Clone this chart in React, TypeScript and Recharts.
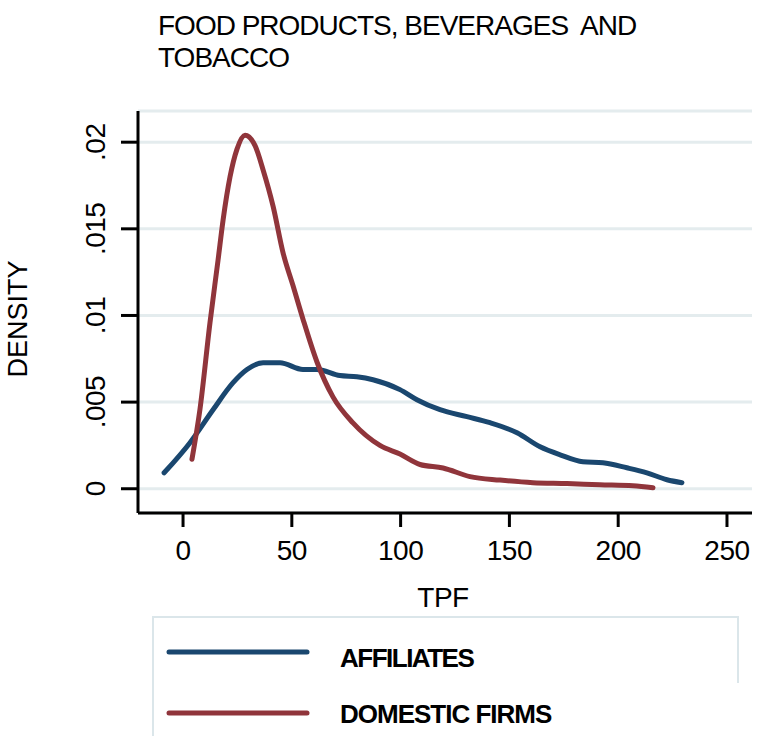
import { LineChart, Line, XAxis, YAxis, CartesianGrid } from "recharts";

// kernel density of TPF
const affiliatesTpf = [-8.7, 3.2, 13.8, 23, 29.4, 36.8, 44.6, 55.1, 61.5, 72.1, 79.9, 87.3, 99.7, 107.5, 118.1, 130.5, 141.1, 153.5, 164.1, 173.3, 183.8, 193, 204, 213.2, 222.4, 229.3];
const affiliatesDensity = [0.00092, 0.00266, 0.00456, 0.00612, 0.00688, 0.00727, 0.00727, 0.00688, 0.00688, 0.00653, 0.00646, 0.00629, 0.00572, 0.00514, 0.00456, 0.00416, 0.00381, 0.00323, 0.00242, 0.00196, 0.00156, 0.0015, 0.00121, 0.00092, 0.00052, 0.00035];

const domesticTpf = [4.1, 7.8, 12.4, 16.1, 18.4, 21.6, 24.8, 28.5, 33.1, 36.8, 41.4, 46, 50.6, 55.1, 61.6, 68.9, 78.1, 90.5, 99.7, 108.9, 119.5, 131.9, 145.7, 160.8, 176.5, 191.6, 206.8, 216];
const domesticDensity = [0.0017, 0.0046, 0.0096, 0.0132, 0.0155, 0.018, 0.0196, 0.0204, 0.0198, 0.0184, 0.0163, 0.0136, 0.0117, 0.0098, 0.0073, 0.0053, 0.0038, 0.0025, 0.002, 0.0014, 0.0012, 0.0007, 0.0005, 0.00035, 0.0003, 0.00023, 0.00017, 0.00006];

const xTicks = [0, 50, 100, 150, 200, 250];
const yTicks = [0, 0.005, 0.01, 0.015, 0.02];
const yTickLabels = ["0", ".005", ".01", ".015", ".02"];

const BLUE = "#1a476f";
const RED = "#90353b";
const FONT = "'Liberation Sans', Arial, sans-serif";

const affiliates = affiliatesTpf.map((x, i) => ({ x, y: affiliatesDensity[i] }));
const domestic = domesticTpf.map((x, i) => ({ x, y: domesticDensity[i] }));

function XTick({ x, y, payload }: any) {
  return (
    <text x={x} y={y} dy={31} textAnchor="middle" fontFamily={FONT} fontSize={28} letterSpacing={-0.5} fill="#000">
      {payload.value}
    </text>
  );
}

function YTick({ x, y, payload }: any) {
  const i = yTicks.indexOf(payload.value);
  const bx = x - 14;
  return (
    <text x={bx} y={y} transform={`rotate(-90, ${bx}, ${y})`} textAnchor="middle" fontFamily={FONT} fontSize={28} letterSpacing={-0.5} fill="#000">
      {i >= 0 ? yTickLabels[i] : payload.value}
    </text>
  );
}

export default function App() {
  return (
    <div style={{ position: "absolute", left: 0, top: 0, width: 761, height: 736, background: "#fff", overflow: "hidden" }}>
      <LineChart width={761} height={736} margin={{ top: 111, right: 9, left: 0, bottom: 0 }}>
        <CartesianGrid vertical={false} stroke="#e4ecee" strokeWidth={3} />
        <XAxis
          dataKey="x"
          type="number"
          domain={[-20.7, 261.5]}
          ticks={xTicks}
          allowDataOverflow
          height={223}
          tickSize={14}
          axisLine={{ stroke: "#000", strokeWidth: 3 }}
          tickLine={{ stroke: "#000", strokeWidth: 3 }}
          tick={<XTick />}
        />
        <YAxis
          type="number"
          domain={[-0.0014, 0.0218]}
          ticks={yTicks}
          allowDataOverflow
          width={138}
          tickSize={17}
          axisLine={{ stroke: "#000", strokeWidth: 3 }}
          tickLine={{ stroke: "#000", strokeWidth: 3 }}
          tick={<YTick />}
        />
        <Line data={affiliates} dataKey="y" type="monotone" stroke={BLUE} strokeWidth={5} strokeLinecap="round" dot={false} isAnimationActive={false} />
        <Line data={domestic} dataKey="y" type="monotone" stroke={RED} strokeWidth={5} strokeLinecap="round" dot={false} isAnimationActive={false} />
      </LineChart>
      <svg width={761} height={736} style={{ position: "absolute", left: 0, top: 0, pointerEvents: "none" }}>
        <g fontFamily={FONT} fill="#000">
          <text x={158} y={35} fontSize={28} letterSpacing={-1} xmlSpace="preserve">FOOD PRODUCTS, BEVERAGES  AND</text>
          <text x={158} y={67} fontSize={28} letterSpacing={-1}>TOBACCO</text>
          <text x={27} y={319} fontSize={27} textAnchor="middle" transform="rotate(-90, 27, 319)">DENSITY</text>
          <text x={443} y={607} fontSize={28} letterSpacing={-0.5} textAnchor="middle">TPF</text>
        </g>
        <path d="M153,736 L153,617 L738,617 L738,683" stroke="#dbe6ea" strokeWidth={2} fill="none" />
        <line x1={169} y1={652} x2={307} y2={652} stroke={BLUE} strokeWidth={5} strokeLinecap="round" />
        <line x1={169} y1={713} x2={307} y2={713} stroke={RED} strokeWidth={5} strokeLinecap="round" />
        <g fontFamily={FONT} fontWeight="bold" fontSize={26} fill="#000">
          <text x={340} y={667} letterSpacing={-1.5}>AFFILIATES</text>
          <text x={340} y={723} letterSpacing={-1}>DOMESTIC FIRMS</text>
        </g>
      </svg>
    </div>
  );
}
